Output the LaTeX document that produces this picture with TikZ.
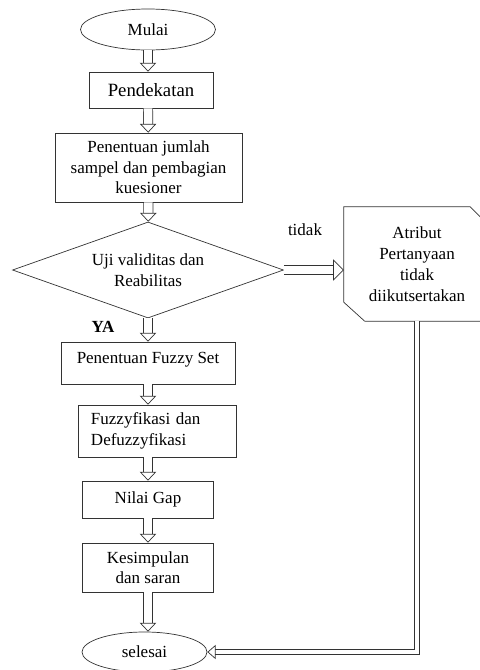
\documentclass[tikz,border=0pt]{standalone}
\usepackage{fontspec}
\setmainfont{Liberation Serif}
\usetikzlibrary{shapes.geometric,arrows.meta}
\begin{document}
\begin{tikzpicture}[x=0.03cm, y=-0.03cm,
    every node/.style={font=\fontsize{14.5}{17.5}\selectfont, inner sep=0pt},
    box/.style={draw=black!80, line width=0.6pt, rectangle, align=center},
    flow/.style={draw=black!80, line width=0.6pt, double, double distance=7.3pt,
        -{Triangle[open, length=7.5pt, width=14pt, line width=0.6pt]}},
    flowkanan/.style={draw=black!80, line width=0.6pt, double, double distance=7.6pt,
        -{Triangle[open, length=9pt, width=18pt, line width=0.6pt]}},
    side/.style={draw=black!80, line width=0.6pt, double, double distance=3.6pt,
        -{Triangle[open, length=7pt, width=12pt, line width=0.6pt]}}]
    
    \clip (0,0) rectangle (480,670);
    
    \node[draw=black!80, line width=0.6pt, ellipse, minimum width=4.05cm, minimum height=1.23cm] (A) at (148,29.5) {Mulai};
    \node[box, minimum width=3.72cm, minimum height=1.08cm, font=\fontsize{16}{19}\selectfont] (B) at (151,90) {Pendekatan};
    \node[box, minimum width=5.61cm, minimum height=2.07cm] (C) at (148.5,167.5) {Penentuan jumlah\\sampel dan pembagian\\kuesioner};
    \node[draw=black!80, line width=0.6pt, diamond, aspect=2.8, align=center, minimum width=8.13cm, minimum height=2.88cm] (D) at (148,270) {Uji validitas dan\\Reabilitas};
    \node[font=\fontsize{14.5}{17.5}\selectfont\bfseries] (E) at (103,327) {YA};
    
    \draw[flow] (A) -- (A |- B.north);
    \draw[flow] (A |- B.south) -- (C);
    \draw[flow] (C) -- (D);
    
    \node[box, minimum width=5.22cm, minimum height=1.26cm] (F) at (148,363) {Penentuan Fuzzy Set\\[-8pt] ~};
    \node[box, align=left, text width=3.96cm, inner xsep=0.39cm, minimum height=1.56cm] (G) at (157,431) {Fuzzyfikasi dan\\Defuzzyfikasi};
    \node[box, minimum width=3.93cm, minimum height=1.11cm] (H) at (148,499.5) {Nilai Gap};
    \node[box, minimum width=3.93cm, minimum height=1.47cm] (I) at (148,567.5) {Kesimpulan\\dan saran};
    \node[draw=black!80, line width=0.6pt, ellipse, minimum width=3.75cm, minimum height=1.2cm] (J) at (144.5,652) {selesai};
    
    \draw[flow] (D.south) -- (F);
    \draw[flow] (F) -- (F |- G.north);
    \draw[flow] (H |- G.south) -- (H);
    \draw[flow] (H) -- (I);
    \draw[flow] (I) -- (I |- J.north);
    
    % kotak atribut, sudut kanan atas dan kiri bawah dipotong
    \node[align=center, minimum width=4.38cm, minimum height=3.42cm, font=\fontsize{14.5}{18}\selectfont] (K) at (417,264) {Atribut\\Pertanyaan\\tidak\\diikutsertakan};
    \draw[black!80, line width=0.6pt] (K.north west) -- ([xshift=-0.6cm]K.north east) -- ([yshift=-0.6cm]K.north east)
        -- (K.south east) -- ([xshift=0.63cm]K.south west) -- ([yshift=0.57cm]K.south west) -- cycle;
    \node (L) at (305,230) {tidak};
    
    \draw[flowkanan] (D.east) -- (K.west |- D.east);
    \draw[side] (K.south) |- (J.east);
    
\end{tikzpicture}
\end{document}
